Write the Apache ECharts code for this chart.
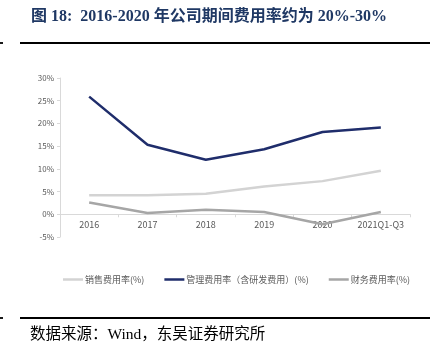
<!DOCTYPE html>
<html>
<head>
<meta charset="utf-8">
<script src="https://cdn.jsdelivr.net/npm/echarts@6/dist/echarts.min.js"></script>
<style>
html,body{margin:0;padding:0;background:#fff;}
#c{width:444px;height:363px;}
</style>
</head>
<body>
<div id="c"></div>
<script>
const categories = ['2016', '2017', '2018', '2019', '2020', '2021Q1-Q3'];
const salesRate = [4.2, 4.2, 4.5, 6.1, 7.3, 9.6];
const adminRate = [25.9, 15.3, 12.0, 14.3, 18.1, 19.1];
const financeRate = [2.6, 0.3, 1.0, 0.5, -2.2, 0.5];
const seriesNames = ['销售费用率(%)', '管理费用率（含研发费用）(%)', '财务费用率(%)'];
const yTicks = {min: -5, max: 30, interval: 5};

const gridTop = 78, gridBottom = 126, H = 363;
const gridH = H - gridTop - gridBottom;
const zeroOffset = gridH * (0 - yTicks.min) / (yTicks.max - yTicks.min);

const chart = echarts.init(document.getElementById('c'), null, {renderer: 'canvas'});
const serif = '"Liberation Serif","Times New Roman","Noto Sans CJK SC",serif';
const sans = '"Noto Sans CJK SC","Liberation Sans",Arial,sans-serif';
chart.setOption({
  animation: false,
  backgroundColor: '#fff',
  grid: {left: 60, right: 34, top: gridTop, bottom: gridBottom},
  legend: {
    data: seriesNames,
    left: 58, top: 270,
    icon: 'rect', itemWidth: 20, itemHeight: 2.5, itemGap: 20,
    textStyle: {fontSize: 9, color: '#595959', fontFamily: sans, padding: [0, 0, 0, -3]}
  },
  xAxis: {
    type: 'category', data: categories, boundaryGap: true,
    offset: -zeroOffset,
    axisLine: {onZero: false, lineStyle: {color: '#d9d9d9', width: 1}},
    axisTick: {show: true, lineStyle: {color: '#d9d9d9'}, length: 3},
    axisLabel: {fontSize: 9, color: '#595959', fontFamily: sans, margin: 6, interval: 0}
  },
  yAxis: {
    type: 'value', min: yTicks.min, max: yTicks.max, interval: yTicks.interval,
    axisLine: {show: true, lineStyle: {color: '#d9d9d9'}},
    axisTick: {show: true, lineStyle: {color: '#d9d9d9'}, length: 3},
    splitLine: {show: false},
    axisLabel: {fontSize: 8, color: '#595959', fontFamily: sans, margin: 6, formatter: v => v + '%'}
  },
  series: [
    {name: seriesNames[0], type: 'line', data: salesRate, symbol: 'none', color: '#d3d3d3', lineStyle: {width: 2.5, color: '#d3d3d3'}},
    {name: seriesNames[1], type: 'line', data: adminRate, symbol: 'none', color: '#1f2d6b', lineStyle: {width: 2.5, color: '#1f2d6b'}},
    {name: seriesNames[2], type: 'line', data: financeRate, symbol: 'none', color: '#a6a6a6', lineStyle: {width: 2.5, color: '#a6a6a6'}}
  ],
  graphic: [
    {type: 'text', left: 31, top: 9, style: {text: '图 18:  2016-2020 年公司期间费用率约为 20%-30%', fill: '#1f3864', font: 'bold 16px ' + serif}},
    {type: 'line', shape: {x1: 20, y1: 43, x2: 430, y2: 43}, style: {stroke: '#000', lineWidth: 1.8}},
    {type: 'line', shape: {x1: 0, y1: 43, x2: 3, y2: 43}, style: {stroke: '#000', lineWidth: 1.8}},
    {type: 'line', shape: {x1: 20, y1: 318, x2: 430, y2: 318}, style: {stroke: '#000', lineWidth: 1.8}},
    {type: 'line', shape: {x1: 0, y1: 318, x2: 3, y2: 318}, style: {stroke: '#000', lineWidth: 1.8}},
    {type: 'text', left: 30, top: 327, style: {text: '数据来源：Wind，东吴证券研究所', fill: '#000', font: '15.5px ' + serif}}
  ]
});
</script>
</body>
</html>
